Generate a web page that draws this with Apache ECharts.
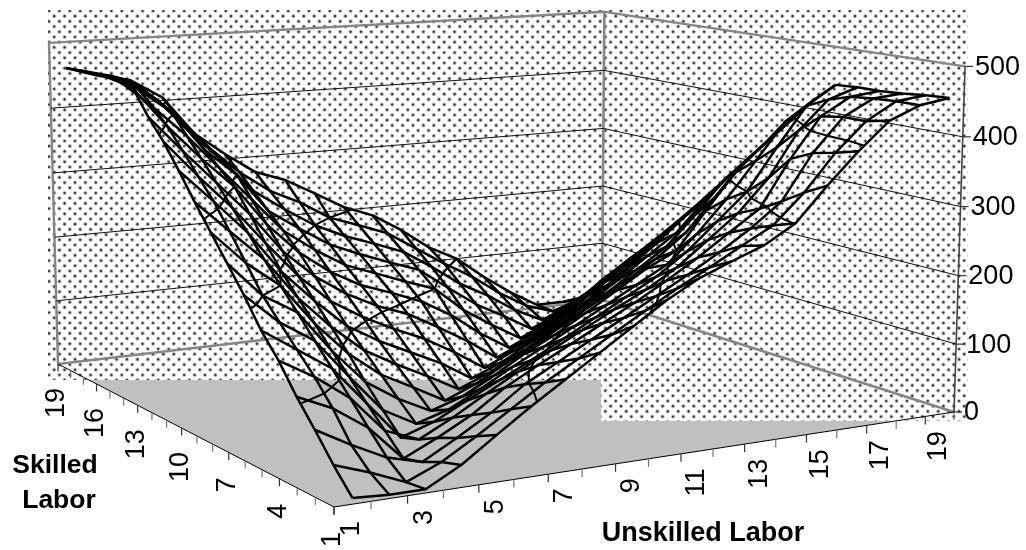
<!DOCTYPE html>
<html><head><meta charset="utf-8">
<style>html,body{margin:0;padding:0;background:#fff}#c{width:1026px;height:550px}</style>
<script src="https://cdn.jsdelivr.net/npm/echarts@6/dist/echarts.min.js"></script>
</head><body><div id="c"></div>
<script>
// Values: one array per Skilled Labor level, Unskilled Labor 1..19
const s01=[8,5,5,30,63,95,125,155,185,215,240,258,275,301,349,393,432,450,457];
const s02=[39,22,2,22,50,80,110,137,164,191,217,241,266,290,332,384,425,450,455];
const s03=[74,47,23,10,36,64,97,122,147,172,197,222,249,278,312,377,425,448,452];
const s04=[107,85,52,3,25,50,82,107,131,155,179,205,233,264,294,362,420,445,450];
const s05=[145,117,82,30,11,35,62,88,112,136,160,183,210,245,280,327,393,435,450];
const s06=[176,144,112,57,2,18,42,65,88,113,138,163,188,220,260,300,362,420,448];
const s07=[215,172,141,84,30,4,18,42,68,92,117,142,167,192,233,281,335,390,420];
const s08=[250,200,171,111,60,29,5,20,45,72,95,122,150,178,200,256,310,350,385];
const s09=[285,237,200,140,91,54,29,3,22,48,72,98,125,152,180,215,265,315,350];
const s10=[320,274,229,168,120,80,53,29,3,22,46,72,97,125,155,185,230,280,315];
const s11=[357,309,259,197,149,106,78,55,32,3,22,48,72,100,130,162,193,240,280];
const s12=[392,338,288,231,177,134,105,81,60,33,3,24,48,74,100,135,170,208,245];
const s13=[421,368,317,266,206,163,131,107,89,63,35,3,24,48,74,100,140,177,210];
const s14=[456,397,346,300,238,191,156,130,113,94,67,32,3,24,48,78,110,145,175];
const s15=[462,420,374,321,269,216,182,153,135,117,100,60,30,3,24,48,85,115,140];
const s16=[463,440,403,342,300,239,207,177,157,139,122,88,55,30,3,24,52,80,105];
const s17=[463,450,415,362,315,263,230,200,178,161,143,113,80,55,25,3,24,48,70];
const s18=[462,450,425,383,330,286,252,229,200,183,165,135,105,78,45,18,3,18,35];
const s19=[460,445,435,405,345,308,275,258,232,205,187,158,124,100,64,32,5,5,10];
const rows=[s01,s02,s03,s04,s05,s06,s07,s08,s09,s10,s11,s12,s13,s14,s15,s16,s17,s18,s19];
const valueTicks=[0,100,200,300,400,500];
const bandLevels=[100,200,300,400];
const skilledLabels=[1,4,7,10,13,16,19];
const unskilledLabels=[1,3,5,7,9,11,13,15,17,19];
const skilledTitle=['Skilled','Labor'];
const unskilledTitle='Unskilled Labor';

// Perspective box (a: unskilled direction, b: skilled direction, k: height 0..1)
const zMax=500;
const P00=[334,507],P10=[954,412],P11=[602,300],P01=[58,364];
const persp=(function(){
  const dx1=P10[0]-P11[0],dy1=P10[1]-P11[1],dx2=P01[0]-P11[0],dy2=P01[1]-P11[1];
  const sx=P00[0]-P10[0]+P11[0]-P01[0],sy=P00[1]-P10[1]+P11[1]-P01[1];
  const den=dx1*dy2-dx2*dy1;
  return {g:(sx*dy2-dx2*sy)/den,h:(dx1*sy-sx*dy1)/den,m:-0.0259,cx:-12.4,cy:-397};
})();
function box(a,b,z){
  const k=z/zMax,w=1+persp.g*a+persp.h*b+persp.m*k;
  return [(P00[0]+a*(P10[0]-P00[0]+persp.g*P10[0])+b*(P01[0]-P00[0]+persp.h*P01[0])+k*persp.cx)/w,
          (P00[1]+a*(P10[1]-P00[1]+persp.g*P10[1])+b*(P01[1]-P00[1]+persp.h*P01[1])+k*persp.cy)/w];
}
const uA=u=>(u-0.5)/19, sB=s=>(s-1)/18;
const node=(u,s,z)=>box(uA(u),sB(s),z);

// Dotted wall texture
const period=10.4;
const tex=document.createElement('canvas');tex.width=52;tex.height=52;
(function(){const c=tex.getContext('2d');
  for(let i=-1;i<=6;i++)for(let j=-1;j<=11;j++){
    const x=7.4+i*period+(j%2?period/2:0),y=0.6+j*period/2;
    c.fillStyle='rgba(120,120,120,0.5)';c.beginPath();c.arc(x,y,2.1,0,7);c.fill();
    c.fillStyle='#2e2e2e';c.beginPath();c.arc(x,y,1.1,0,7);c.fill();
  }})();

const lineSeries=(pts,color,width,z)=>({type:'line',data:pts,symbol:'none',silent:true,animation:false,clip:false,z:z,
  lineStyle:{color:color,width:width,join:'round'}});
const series=[];

// backdrop
series.push({type:'custom',z:1,silent:true,animation:false,clip:false,data:[[0,0]],renderItem:function(p,api){
  const C=v=>api.coord(v);
  const poly=[box(0,0,0),box(1,0,0),box(1,1,0),box(0,1,0)].map(C);
  const r=(x0,y0,x1,y1,fill)=>{const a=C([x0,y0]),b=C([x1,y1]);return {type:'rect',shape:{x:a[0],y:a[1],width:b[0]-a[0],height:b[1]-a[1]},style:{fill:fill}};};
  const pat={image:tex,repeat:'repeat'};
  return {type:'group',children:[
    {type:'polygon',shape:{points:poly},style:{fill:'#c0c0c0'}},
    r(48,10,601,380,'#fff'),r(601,10,968,421,'#fff'),
    r(48,10,601,380,pat),r(601,10,968,421,pat)
  ]};
}});

// walls
const wall='#868686';
series.push(lineSeries([box(0,1,0),box(0,1,zMax),box(1,1,zMax),box(1,0,zMax)],wall,2.4,3));
series.push(lineSeries([box(0,1,0),box(1,1,0),box(1,0,0)],wall,2.4,3));
series.push(lineSeries([box(1,1,0),box(1,1,zMax)],wall,2.6,3));
bandLevels.forEach(v=>series.push(lineSeries([box(0,1,v),box(1,1,v),box(1,0,v)],'#111',1,3)));
series.push(lineSeries([box(1,0,0),box(1,0,zMax)],'#444',1.6,4));
// floor axes
series.push(lineSeries([box(0,1,0),box(0,0,0),box(1,0,0)],'#000',1,4));
for(let i=0;i<19;i++){const p=box(0,i/18,0);series.push(lineSeries([p,[p[0],p[1]+7.5]],i%3===0?'#333':'#777',1.2,4));}
for(let i=0;i<=19;i++){const p=box(i/19,0,0);series.push(lineSeries([p,[p[0],p[1]+8]],i%2===0?'#333':'#777',1.2,4));}
valueTicks.forEach(v=>{const p=box(1,0,v);series.push(lineSeries([p,[p[0]+8,p[1]]],'#333',1.2,4));});

// surface wireframe
for(let s=1;s<=19;s++){series.push(lineSeries(rows[s-1].map((z,i)=>node(i+1,s,z)),'#000',2.5,6));}
for(let u=1;u<=19;u++){series.push(lineSeries(rows.map((r,j)=>node(u,j+1,r[u-1])),'#000',2.5,6));}

// band boundaries from the same values
const segs=[];
bandLevels.forEach(L=>{
  for(let j=0;j<18;j++)for(let i=0;i<18;i++){
    const c=[[i,j],[i+1,j],[i+1,j+1],[i,j+1]],v=c.map(q=>rows[q[1]][q[0]]),hit=[];
    for(let k=0;k<4;k++){const n=(k+1)%4;
      if((v[k]<L)!==(v[n]<L)){const t=(L-v[k])/(v[n]-v[k]);
        hit.push(node(c[k][0]+1+t*(c[n][0]-c[k][0]),c[k][1]+1+t*(c[n][1]-c[k][1]),L));}}
    for(let k=0;k+1<hit.length;k+=2)segs.push([hit[k][0],hit[k][1],hit[k+1][0],hit[k+1][1]]);
  }
});
series.push({type:'custom',z:6,silent:true,animation:false,clip:false,data:segs,renderItem:function(p,api){
  const a=api.coord([api.value(0),api.value(1)]),b=api.coord([api.value(2),api.value(3)]);
  return {type:'line',shape:{x1:a[0],y1:a[1],x2:b[0],y2:b[1]},style:{stroke:'#000',lineWidth:2,fill:null}};
}});

// texts
const texts=[];
const tickFont='27px "Liberation Sans", Arial, sans-serif';
const titleFont='bold 26.5px "Liberation Sans", Arial, sans-serif';
valueTicks.forEach(v=>{const p=box(1,0,v);texts.push({t:String(v),x:p[0]+10,y:p[1]+1,align:'left',rot:0,font:tickFont,fill:'#000'});});
skilledLabels.forEach(s=>{const p=box(0,sB(s),0);texts.push({t:String(s),x:p[0]-1,y:p[1]+24+(s<10?1:0),align:'right',rot:Math.PI/2,font:tickFont,fill:'#000'});});
unskilledLabels.forEach(u=>{const p=box(uA(u),0,0);texts.push({t:String(u),x:p[0]-1,y:p[1]+17,align:'right',rot:Math.PI/2,font:tickFont,fill:'#000'});});
texts.push({t:skilledTitle[0],x:55,y:466,align:'center',rot:0,font:titleFont,fill:'#000'});
texts.push({t:skilledTitle[1],x:59,y:501,align:'center',rot:0,font:titleFont,fill:'#000'});
texts.push({t:unskilledTitle,x:703,y:534,align:'center',rot:0,font:'bold 27px "Liberation Sans", Arial, sans-serif',fill:'#000'});
series.push({type:'custom',z:8,silent:true,animation:false,clip:false,data:texts.map((t,i)=>[t.x,t.y,i]),renderItem:function(p,api){
  const t=texts[api.value(2)],a=api.coord([api.value(0),api.value(1)]);
  return {type:'text',x:a[0],y:a[1],rotation:t.rot,style:{text:t.t,font:t.font,fill:t.fill,align:t.align,verticalAlign:'middle'}};
}});

const chart=echarts.init(document.getElementById('c'),null,{renderer:'canvas'});
chart.setOption({animation:false,backgroundColor:'#fff',
  grid:{left:0,right:0,top:0,bottom:0},
  xAxis:{type:'value',min:0,max:1026,show:false},
  yAxis:{type:'value',min:0,max:550,inverse:true,show:false},
  tooltip:{show:false},legend:{show:false},
  series:series});
</script></body></html>
